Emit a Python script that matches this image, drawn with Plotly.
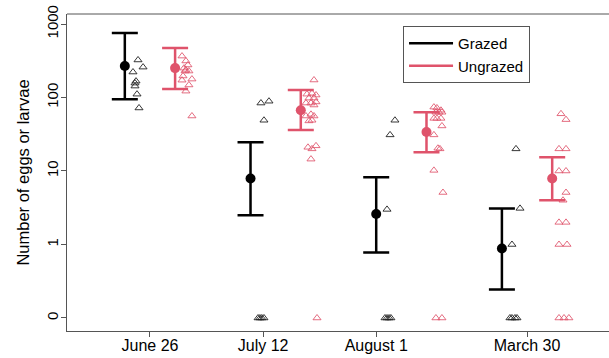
import plotly.graph_objects as go

# Sampling dates and where their labels sit on the x axis
dates = ["June 26", "July 12", "August 1", "March 30"]
date_ticks = [1, 1.9, 2.8, 4]

# Back-transformed means and 95% CI for each treatment
grazed_mean = [268, 7.9, 2.6, 0.88]
grazed_hi = [755, 24.6, 8.2, 3.1]
grazed_lo = [95, 2.5, 0.78, 0.245]

ungrazed_mean = [251, 67, 34, 7.9]
ungrazed_hi = [471, 126, 63, 15.4]
ungrazed_lo = [130, 36, 18, 4.0]

# Raw counts per sample (0 is drawn on the broken-axis floor)
grazed_counts = [
    [324, 259, 222, 167, 157, 143, 111, 72],
    [84, 89, 49, 0, 0, 0, 0],
    [49, 31, 3, 0, 0, 0, 0],
    [20, 3.1, 1, 0, 0, 0, 0],
]
grazed_jitter = [
    [0.005, 0.045, -0.035, -0.011, -0.019, -0.019, -0.003, 0.013],
    [-0.017, 0.047, 0.007, -0.04, -0.025, -0.01, 0.007],
    [0.049, 0.010, -0.014, -0.03, -0.014, 0.002, 0.017],
    [0.012, 0.044, -0.020, -0.036, -0.020, 0.004, 0.020],
]
ungrazed_counts = [
    [366, 314, 277, 251, 236, 229, 229, 196, 178, 172, 148, 122, 56],
    [173, 111, 114, 108, 98, 98, 87, 84, 84, 79, 56, 59, 56, 48, 49, 21, 22, 20, 14.5, 0],
    [74, 72, 67, 63, 63, 63, 52, 52, 52, 41, 31, 20.4, 20, 10.2, 5.1, 0, 0],
    [60, 50, 20, 20, 10, 10, 5.1, 4.0, 2, 2, 1, 1, 0, 0, 0],
]
ungrazed_jitter = [
    [-0.045, -0.014, 0.002, -0.029, -0.014, 0.010, -0.021, -0.037, 0.034, -0.045, 0.010, -0.014, 0.034],
    [0.005, -0.051, -0.011, 0.021, -0.035, 0.005, 0.021, -0.019, -0.059, 0.005, -0.059, -0.019,
     0.005, -0.035, -0.011, -0.043, 0.021, -0.011, -0.019, 0.029],
    [-0.041, -0.017, 0.015, -0.025, -0.001, 0.023, -0.041, -0.017, 0.015, 0.023, -0.041, -0.009,
     0.007, -0.041, 0.031, -0.025, 0.023],
    [-0.030, 0.010, -0.046, 0.010, -0.046, 0.010, 0.010, -0.014, -0.046, 0.010, -0.046, 0.018,
     -0.046, -0.006, 0.033],
]

y_ticks = [0.1, 1, 10, 100, 1000]
y_ticktext = ["0", "1", "10", "100", "1000"]
ZERO_FLOOR = 0.1

BLACK = "#000000"
RED = "#DF536B"
FONT = "Liberation Sans, Arial, sans-serif"

fig = go.Figure()


def raw_points(counts, jitter, shift, color, opacity):
    xs, ys = [], []
    for i, (cs, js) in enumerate(zip(counts, jitter)):
        for c, j in zip(cs, js):
            xs.append(i + 1 + shift + j)
            ys.append(c if c > 0 else ZERO_FLOOR)
    fig.add_trace(go.Scatter(
        x=xs, y=ys, mode="markers", showlegend=False, hoverinfo="skip",
        marker=dict(symbol="triangle-up-open", size=7, color=color,
                    line=dict(width=1, color=color), opacity=opacity),
    ))


def mean_ci(mean, hi, lo, shift, color, name):
    fig.add_trace(go.Scatter(
        x=[i + 1 + shift for i in range(len(mean))], y=mean, mode="markers",
        name=name, showlegend=False,
        marker=dict(symbol="circle", size=10, color=color),
        error_y=dict(type="data", symmetric=False,
                     array=[h - m for h, m in zip(hi, mean)],
                     arrayminus=[m - l for m, l in zip(mean, lo)],
                     color=color, thickness=2.5, width=13),
    ))
    # legend entry drawn as a line sample
    fig.add_trace(go.Scatter(x=[None], y=[None], mode="lines", name=name,
                             line=dict(color=color, width=2.5)))


raw_points(grazed_counts, grazed_jitter, -0.1, "#222222", 0.9)
raw_points(ungrazed_counts, ungrazed_jitter, 0.3, RED, 0.85)
mean_ci(grazed_mean, grazed_hi, grazed_lo, -0.2, BLACK, "Grazed")
mean_ci(ungrazed_mean, ungrazed_hi, ungrazed_lo, 0.2, RED, "Ungrazed")

# top frame line (box open on the right)
fig.add_shape(type="line", xref="paper", yref="paper", x0=0, x1=1, y0=1, y1=1,
              line=dict(color="#555555", width=1))

fig.update_layout(
    width=609, height=358,
    margin=dict(l=67, r=0, t=14, b=27),
    paper_bgcolor="white", plot_bgcolor="white",
    font=dict(family=FONT, size=15, color="#000000"),
    legend=dict(x=0.62, y=0.962, xanchor="left", yanchor="top",
                bordercolor="#555555", borderwidth=1, bgcolor="white",
                font=dict(size=15), tracegroupgap=0, itemwidth=44),
)
fig.update_xaxes(
    range=[0.34, 4.652], tickvals=date_ticks, ticktext=dates,
    tickfont=dict(size=16),
    showgrid=False, zeroline=False, showline=True, linecolor="#555555", linewidth=1,
    ticks="outside", ticklen=5, tickcolor="#555555", ticklabelstandoff=-5,
)
fig.update_yaxes(
    type="log", range=[-1.177, 3.136], tickvals=y_ticks, ticktext=y_ticktext,
    tickangle=-90, showgrid=False, zeroline=False, showline=True,
    linecolor="#555555", linewidth=1, ticks="outside", ticklen=5, tickcolor="#555555",
    ticklabelstandoff=-3,
    title=dict(text="Number of eggs or larvae", standoff=10, font=dict(size=16.5)),
)

fig.write_html("out.html")
